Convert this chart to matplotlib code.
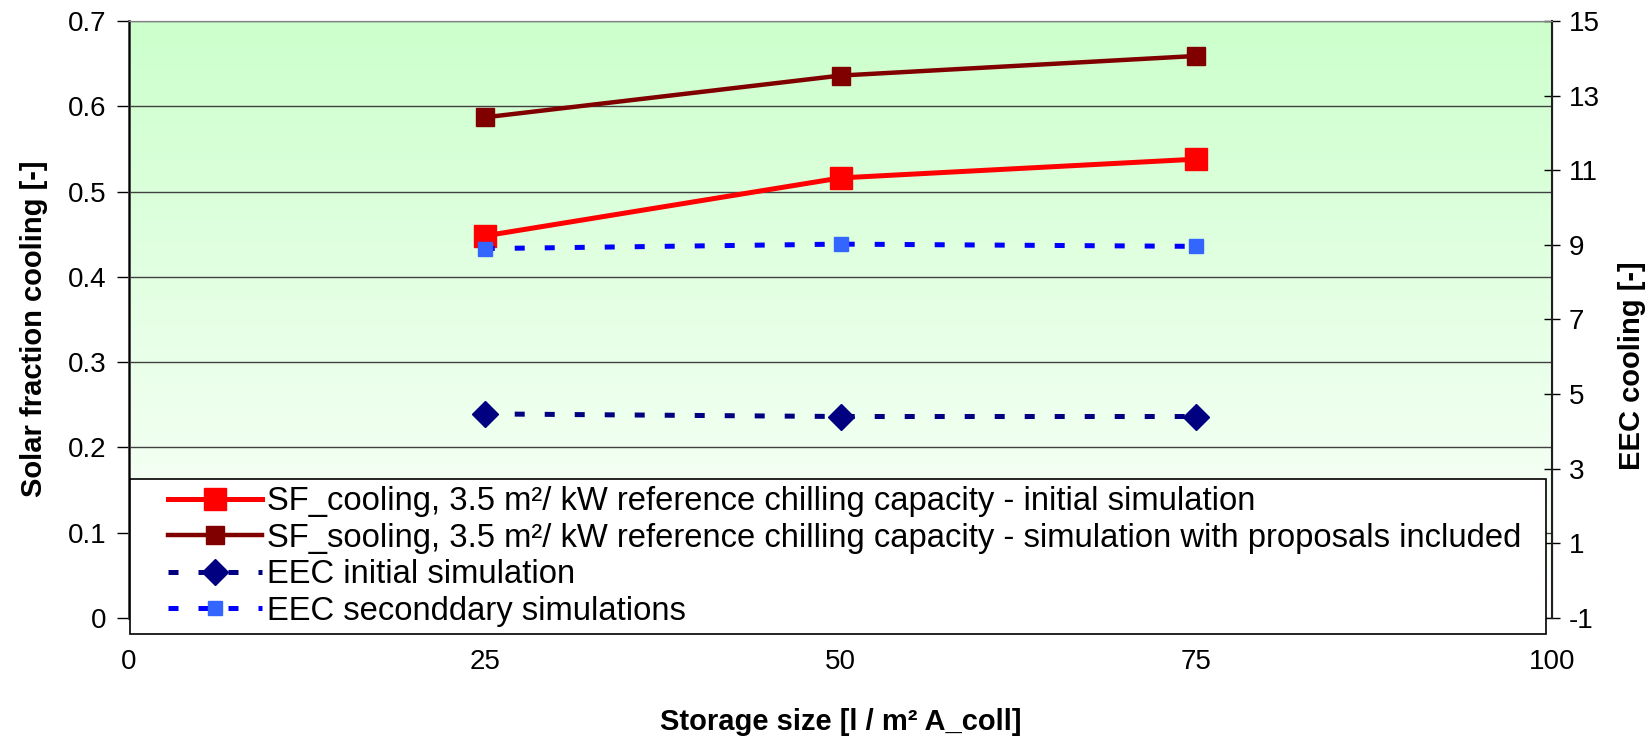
import matplotlib.pyplot as plt
import numpy as np
from matplotlib.colors import LinearSegmentedColormap
from matplotlib.legend_handler import HandlerLine2D

# data
storage = [25, 50, 75]
sf_initial = [0.448, 0.516, 0.538]
sf_proposals = [0.587, 0.636, 0.659]
eec_initial = [4.47, 4.40, 4.40]
eec_secondary = [8.90, 9.02, 8.96]

series_labels = [
    'SF_cooling, 3.5 m\u00b2/ kW reference chilling capacity - initial simulation',
    'SF_sooling, 3.5 m\u00b2/ kW reference chilling capacity - simulation with proposals included',
    'EEC initial simulation',
    'EEC seconddary simulations',
]
x_ticks = [0, 25, 50, 75, 100]
left_ticks = [0, 0.1, 0.2, 0.3, 0.4, 0.5, 0.6, 0.7]
right_ticks = [-1, 1, 3, 5, 7, 9, 11, 13, 15]

plt.rcParams['font.family'] = ['Liberation Sans', 'DejaVu Sans']
plt.rcParams['axes.unicode_minus'] = False

fig = plt.figure(figsize=(16.51, 7.36), dpi=100)
ax = fig.add_axes([0.0781, 0.1603, 0.862, 0.8112])
ax2 = ax.twinx()

# green gradient background
cmap = LinearSegmentedColormap.from_list('bg', ['#FFFFFF', '#CCFFCC'])
ax.imshow(np.linspace(1, 0, 256)[:, None], extent=[0, 100, 0, 0.7],
          aspect='auto', cmap=cmap, zorder=0)

ax.set_xlim(0, 100)
ax.set_ylim(0, 0.7)
ax2.set_ylim(-1, 15)
ax.set_yticks(left_ticks)
ax.set_yticklabels(['0' if v == 0 else '%.1f' % v for v in left_ticks])
ax2.set_yticks(right_ticks)
ax.set_xticks(x_ticks)
ax.yaxis.grid(True, color='#404040', lw=1)
ax.set_axisbelow(True)

h1, = ax.plot(storage, sf_initial, color='#FF0000', lw=3.6, marker='s', ms=16.5,
              zorder=3)
h2, = ax.plot(storage, sf_proposals, color='#800000', lw=3.2, marker='s', ms=13.5,
              zorder=3)
h3, = ax2.plot(storage, eec_initial, color='#000080', lw=3.6, ls=(0, (2, 4)),
               marker='D', ms=13.5)
h4, = ax2.plot(storage, eec_secondary, color='#0000FF', lw=3.6, ls=(0, (2, 4)),
               marker='s', ms=10.5, mfc='#3366FF', mec='#3366FF')

for a in (ax, ax2):
    a.spines['bottom'].set_visible(False)
    a.spines['top'].set_color('#808080')
ax.spines['left'].set_color('#404040')
ax.spines['left'].set_linewidth(2)
ax2.spines['right'].set_color('#202020')
ax2.spines['right'].set_linewidth(1.5)

ax.tick_params(axis='y', direction='out', length=9, width=1, labelsize=20, pad=7)
ax.tick_params(axis='x', length=0, labelsize=20, pad=22)
ax2.tick_params(axis='y', direction='inout', length=11.5, width=1, labelsize=20, pad=6)

ax.set_ylabel('Solar fraction cooling [-]', fontsize=21, fontweight='bold')
ax.yaxis.set_label_coords(-0.057, 0.485)
ax2.set_ylabel('EEC cooling [-]', fontsize=21, fontweight='bold')
ax2.yaxis.set_label_coords(1.046, 0.423)
ax.set_xlabel('Storage size [l / m\u00b2 A_coll]', fontsize=21, fontweight='bold')
ax.xaxis.set_label_coords(0.5, -0.151)

hmap = {h: HandlerLine2D(xpad=0.92) for h in (h1, h2, h3, h4)}
leg = ax2.legend([h1, h2, h3, h4], series_labels, loc='upper left',
                 bbox_to_anchor=(0.001, 0.233, 0.995, 0.0), mode='expand',
                 fontsize=23.6, handlelength=3.8, handletextpad=0.15,
                 labelspacing=0.17, borderpad=0.22, borderaxespad=0,
                 fancybox=False, framealpha=1, edgecolor='black', numpoints=1,
                 handler_map=hmap)
leg.get_frame().set_linewidth(1.2)
leg.set_zorder(10)

fig.savefig('out.png', dpi=100)
